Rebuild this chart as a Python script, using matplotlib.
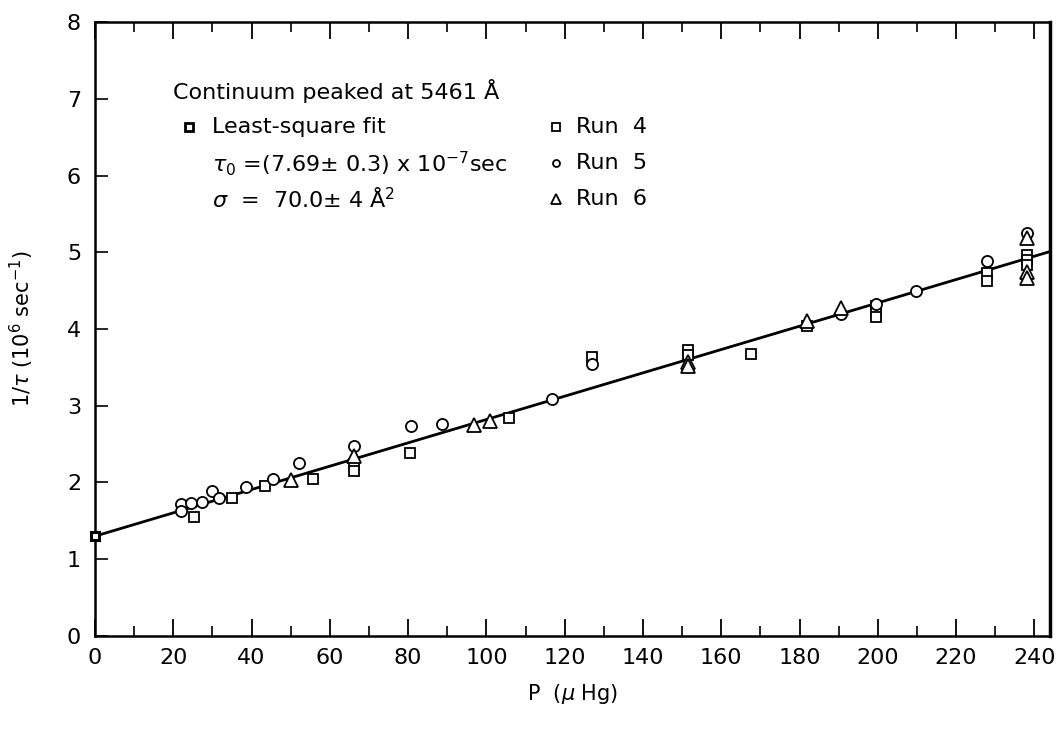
import numpy as np
import matplotlib.pyplot as plt
from matplotlib.ticker import MultipleLocator

# ---------- DATA ----------

# Run 4 (squares)
run4_p = [25.4, 35.0, 43.4, 55.6, 66.3, 66.3, 80.4, 105.7, 127.0, 151.6, 151.6,
          167.6, 182.0, 199.6, 199.6, 199.6, 228.0, 228.0, 238.0, 238.0, 238.0]
run4_rate = [1.55, 1.80, 1.95, 2.04, 2.24, 2.15, 2.38, 2.84, 3.63, 3.73, 3.66,
             3.68, 4.04, 4.30, 4.24, 4.16, 4.73, 4.63, 4.96, 4.90, 4.84]

# Run 5 (circles)
run5_p = [22.0, 22.1, 24.5, 27.3, 30.0, 31.6, 38.5, 45.6, 52.0, 66.3, 80.7,
          88.7, 116.7, 127.0, 190.7, 199.6, 209.8, 228.0, 238.0]
run5_rate = [1.72, 1.63, 1.73, 1.75, 1.89, 1.80, 1.94, 2.05, 2.25, 2.48, 2.74,
             2.76, 3.09, 3.55, 4.20, 4.33, 4.50, 4.88, 5.25]

# Run 6 (triangles)
run6_p = [50.2, 66.3, 96.8, 100.9, 151.6, 151.6, 182.0, 190.7, 238.0, 238.0, 238.0]
run6_rate = [2.03, 2.34, 2.75, 2.80, 3.57, 3.52, 4.10, 4.27, 5.18, 4.74, 4.66]

# least-square fit: 1/tau = 1/tau0 + slope * P
tau0 = 7.69e-7
fit_intercept = 1.0 / tau0 / 1e6
fit_slope = 0.0152

x_ticks = list(range(0, 241, 20))
y_ticks = list(range(0, 9))

# ---------- PLOT ----------

plt.rcParams['font.family'] = ['DejaVu Sans']

fig = plt.figure(figsize=(10.59, 7.29), dpi=100)
ax = fig.add_axes([0.0897, 0.1276, 0.9018, 0.8422])

p_line = np.array([0, 244])
ax.plot(p_line, fit_intercept + fit_slope * p_line, color='black', lw=2.0, zorder=2)

mk = dict(linestyle='none', markerfacecolor='white', markeredgecolor='black',
          markeredgewidth=1.3, zorder=3)
ax.plot(run4_p, run4_rate, marker='s', markersize=7, **mk)
ax.plot(run5_p, run5_rate, marker='o', markersize=8, **mk)
ax.plot(run6_p, run6_rate, marker='^', markersize=9.5, **mk)

# intercept point from the fit
ax.plot([0], [fit_intercept], marker='s', markersize=6, markerfacecolor='white',
        markeredgecolor='black', markeredgewidth=2.2, linestyle='none', zorder=4,
        clip_on=False)

# ---------- ANNOTATIONS ----------

fs = 16
row_y = [7.10, 6.63, 6.16, 5.69]
ax.text(20.0, row_y[0], "Continuum peaked at 5461 Å", fontsize=fs, va='center')
ax.plot([24.0], [row_y[1]], marker='s', markersize=5.5, markerfacecolor='white',
        markeredgecolor='black', markeredgewidth=2.0, linestyle='none')
ax.text(30.0, row_y[1], "Least-square fit", fontsize=fs, va='center')
ax.text(30.0, row_y[2], r"$\tau_0$ =(7.69$\pm$ 0.3) x 10$^{-7}$sec", fontsize=fs, va='center')
ax.text(30.0, row_y[3], r"$\sigma$  =  70.0$\pm$ 4 Å$^2$", fontsize=fs, va='center')

ax.plot([117.9], [row_y[1]], marker='s', markersize=5.5, **mk)
ax.plot([117.9], [row_y[2]], marker='o', markersize=5, **mk)
ax.plot([117.9], [row_y[3]], marker='^', markersize=7, **mk)
ax.text(122.8, row_y[1], "Run  4", fontsize=fs, va='center')
ax.text(122.8, row_y[2], "Run  5", fontsize=fs, va='center')
ax.text(122.8, row_y[3], "Run  6", fontsize=fs, va='center')

# ---------- AXES ----------

ax.set_xlim(0, 244)
ax.set_ylim(0, 8)
ax.set_xticks(x_ticks)
ax.set_yticks(y_ticks)
ax.xaxis.set_minor_locator(MultipleLocator(10))

ax.tick_params(axis='x', which='major', direction='in', length=12, width=1.3,
               top=True, labelsize=16, pad=9)
ax.tick_params(axis='x', which='minor', direction='in', length=7, width=1.2, top=True)
ax.tick_params(axis='y', which='major', direction='in', length=9, width=1.2,
               labelsize=16, pad=10)

for side in ['left', 'bottom', 'top']:
    ax.spines[side].set_linewidth(1.8)
ax.spines['right'].set_linewidth(2.5)

ax.set_xlabel(r"P  ($\mu$ Hg)", fontsize=15, labelpad=10)
ax.set_ylabel(r"1/$\tau$ (10$^6$ sec$^{-1}$)", fontsize=15, labelpad=22)

plt.savefig("out.png", dpi=100)
